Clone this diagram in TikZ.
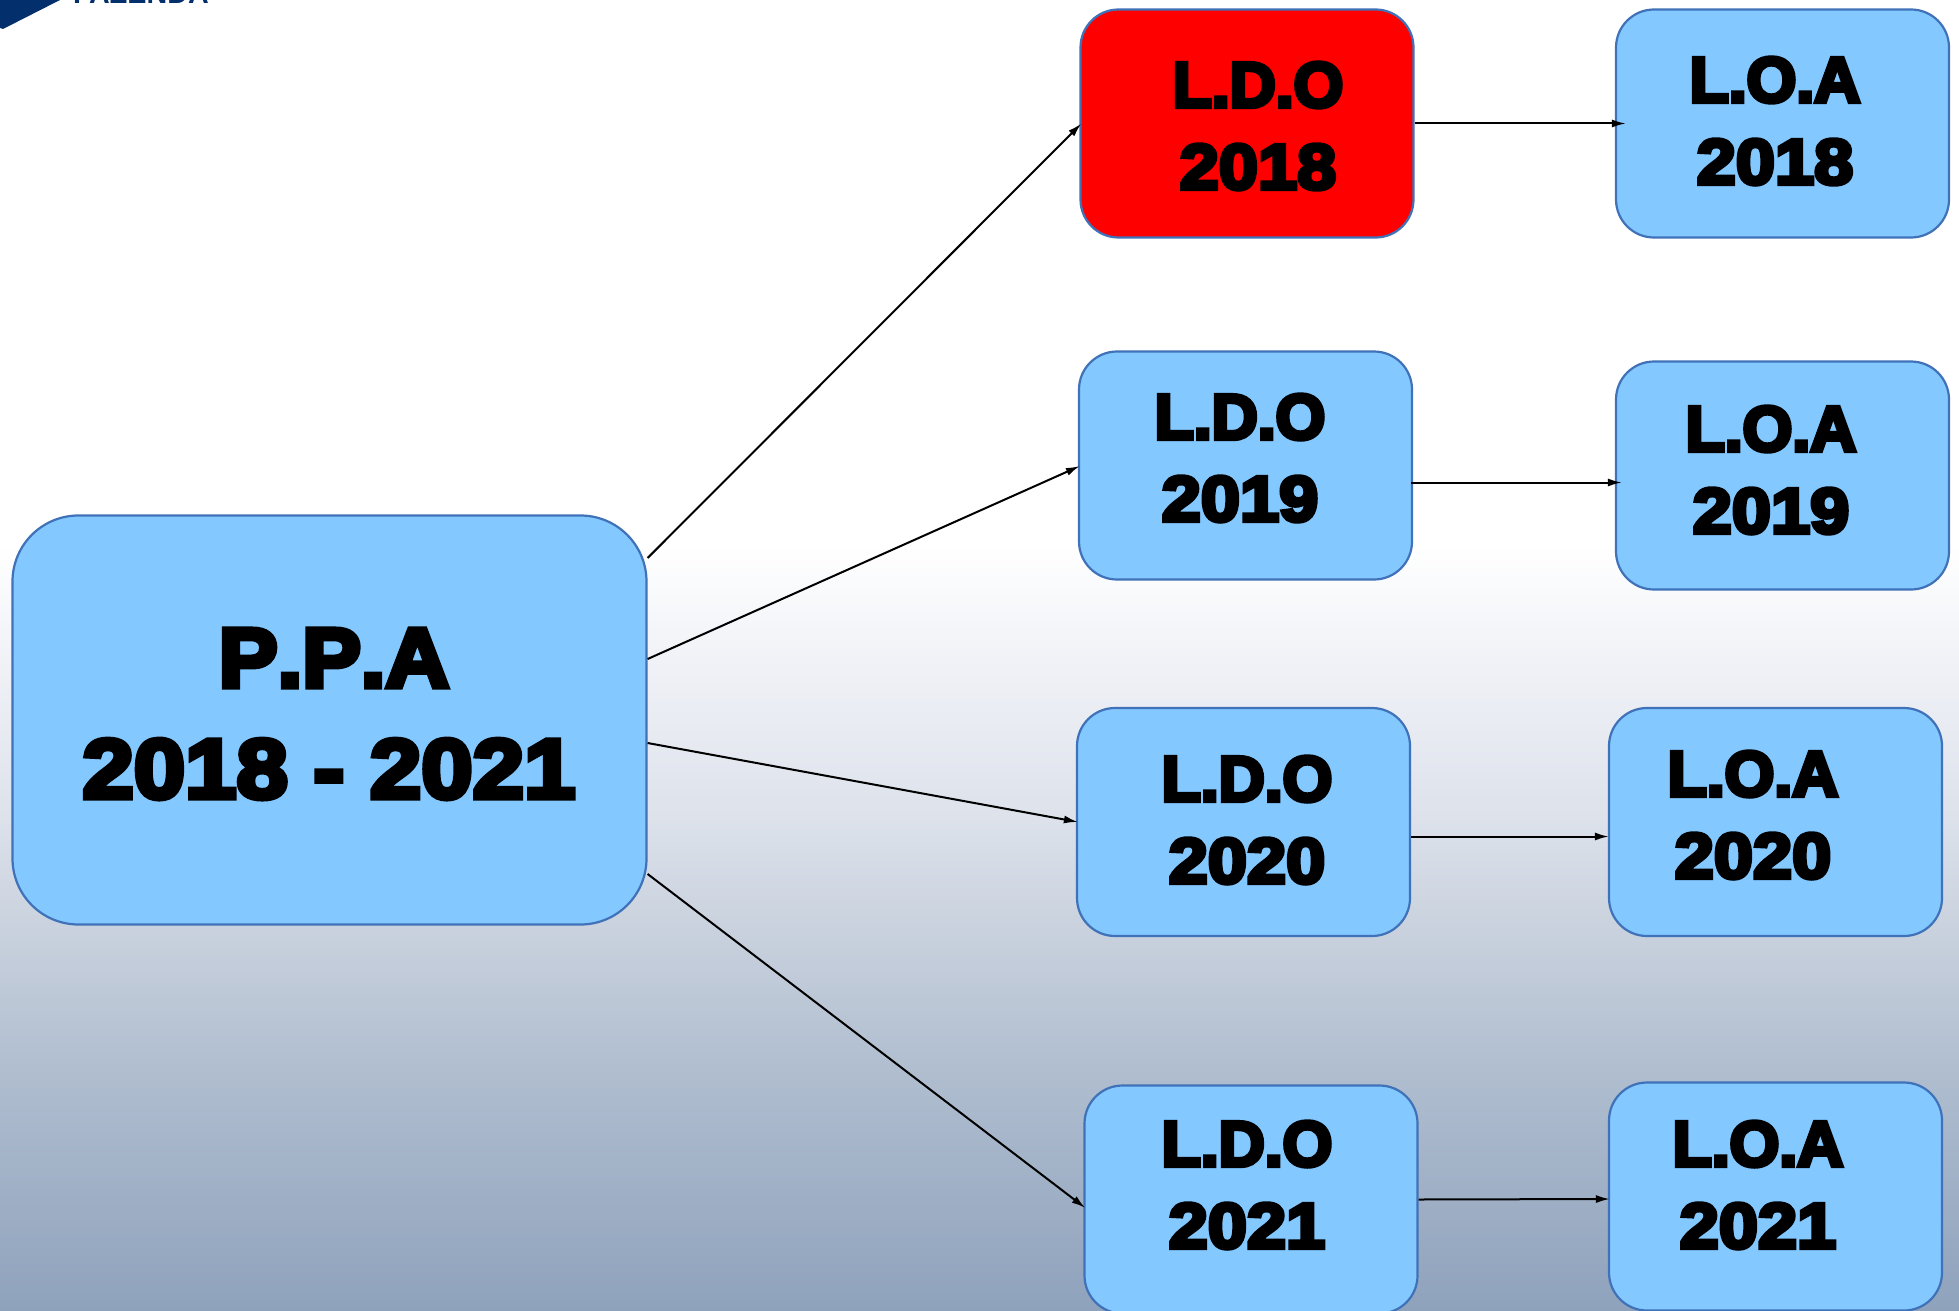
\documentclass[tikz,border=0pt]{standalone}
\usepackage{fontspec}
\usetikzlibrary{arrows.meta}
\newfontfamily\boxfont[UprightFont=* Bold,FakeBold=6.5,Kerning=Off]{Liberation Sans}
\newfontfamily\yearfont[UprightFont=* Bold,FakeBold=6.5,FakeStretch=1.1]{Liberation Sans}
\newfontfamily\bigfont[UprightFont=* Bold,FakeBold=6.5,FakeStretch=1.05,Kerning=Off]{Liberation Sans}
\newfontfamily\logofont[UprightFont=* Bold]{Liberation Sans}
\definecolor{boxblue}{HTML}{83C8FF}
\definecolor{boxline}{HTML}{3F72B8}
\definecolor{logoblue}{HTML}{03306C}
\definecolor{bgA}{HTML}{8FA2BC}
\definecolor{bgB}{HTML}{AFBDCF}
\definecolor{bgC}{HTML}{C6CFDC}
\definecolor{bgD}{HTML}{DDE2EB}
\definecolor{bgE}{HTML}{EDEFF5}
\pgfdeclareverticalshading{slidebg}{100bp}{color(0bp)=(bgA); color(25bp)=(bgA); color(34bp)=(bgB); color(38.95bp)=(bgC); color(43.9bp)=(bgD); color(48.8bp)=(bgE); color(54.2bp)=(white); color(100bp)=(white)}
\tikzset{
  >={Latex[length=14pt,width=8pt]},
  card/.style={draw=boxline, line width=2.2pt, fill=boxblue, rounded corners=38pt, minimum width=333pt, minimum height=228pt, inner sep=0pt},
  bigcard/.style={card, rounded corners=66pt, minimum width=634pt, minimum height=409pt},
  cardtext/.style={align=center, inner sep=0pt, font=\boxfont\fontsize{64}{82}\selectfont},
  bigtext/.style={align=center, inner sep=0pt, font=\bigfont\fontsize{84}{111}\selectfont},
  link/.style={line width=2pt}
}
\newcommand{\yr}[1]{{\yearfont #1}}
\begin{document}
\begin{tikzpicture}[x=1pt,y=-1pt]
\useasboundingbox (0,0) rectangle (1959,1311);
\begin{scope}
\clip (0,0) rectangle (1959,1311);
\fill[shading=slidebg] (0,0) rectangle (1959,1311);

% logo, cut by the top edge
\fill[logoblue] (0,-1) -- (62,-1) -- (3,29) -- (0,28) -- cycle;
\node[anchor=base west, inner sep=0pt, text=logoblue, font=\logofont\fontsize{28.7}{30}\selectfont] (logotext) at (73,4) {FAZENDA};

% boxes
\node[bigcard] (ppa) at (329.5,720) {};
\node[card, fill=red] (ldoA) at (1247,123.5) {};
\node[card] (ldoB) at (1245.5,465.5) {};
\node[card] (ldoC) at (1243.5,822) {};
\node[card] (ldoD) at (1251,1199.5) {};
\node[card] (loaA) at (1782.5,123.5) {};
\node[card] (loaB) at (1782.5,475.5) {};
\node[card] (loaC) at (1775.5,822) {};
\node[card] (loaD) at (1775.5,1196.5) {};

% texts
\node[bigtext] (ppatext) at (329,714) {\hspace*{10pt}P.P.A\\\yr{2018 - 2021}};
\node[cardtext] (ldoAtext) at (1258,126) {L.D.O\\\yr{2018}};
\node[cardtext] (ldoBtext) at (1240,458) {L.D.O\\\yr{2019}};
\node[cardtext] (ldoCtext) at (1247,820) {L.D.O\\\yr{2020}};
\node[cardtext] (ldoDtext) at (1247,1185) {L.D.O\\\yr{2021}};
\node[cardtext] (loaAtext) at (1775,121) {L.O.A\\\yr{2018}};
\node[cardtext] (loaBtext) at (1771,470) {L.O.A\\\yr{2019}};
\node[cardtext] (loaCtext) at (1753,815) {L.O.A\\\yr{2020}};
\node[cardtext] (loaDtext) at (1758,1185) {L.O.A\\\yr{2021}};

% edges
\path[->, link] ([yshift=162pt]ppa.east) edge ([xshift=2pt]ldoA.west); % ppa to 2018
\path[->, link] ([yshift=61pt]ppa.east) edge ([shift={(2pt,-0.5pt)}]ldoB.west); % ppa to 2019
\path[->, link] ([yshift=-23pt]ppa.east) edge ([xshift=2pt]ldoC.west); % ppa to 2020
\path[->, link] ([yshift=-154pt]ppa.east) edge ([shift={(2pt,-8.5pt)}]ldoD.west); % ppa to 2021
\path[->, link] (ldoA.east) edge ([xshift=11pt]loaA.west);
\path[->, link] ([shift={(-2pt,-17pt)}]ldoB.east) edge ([shift={(7pt,-7pt)}]loaB.west);
\path[->, link] ([yshift=-14.5pt]ldoC.east) edge ([shift={(1pt,-14.5pt)}]loaC.west);
\path[->, link] (ldoD.east) edge ([xshift=2pt,yshift=-2.5pt]loaD.west);
\end{scope}
\end{tikzpicture}
\end{document}
